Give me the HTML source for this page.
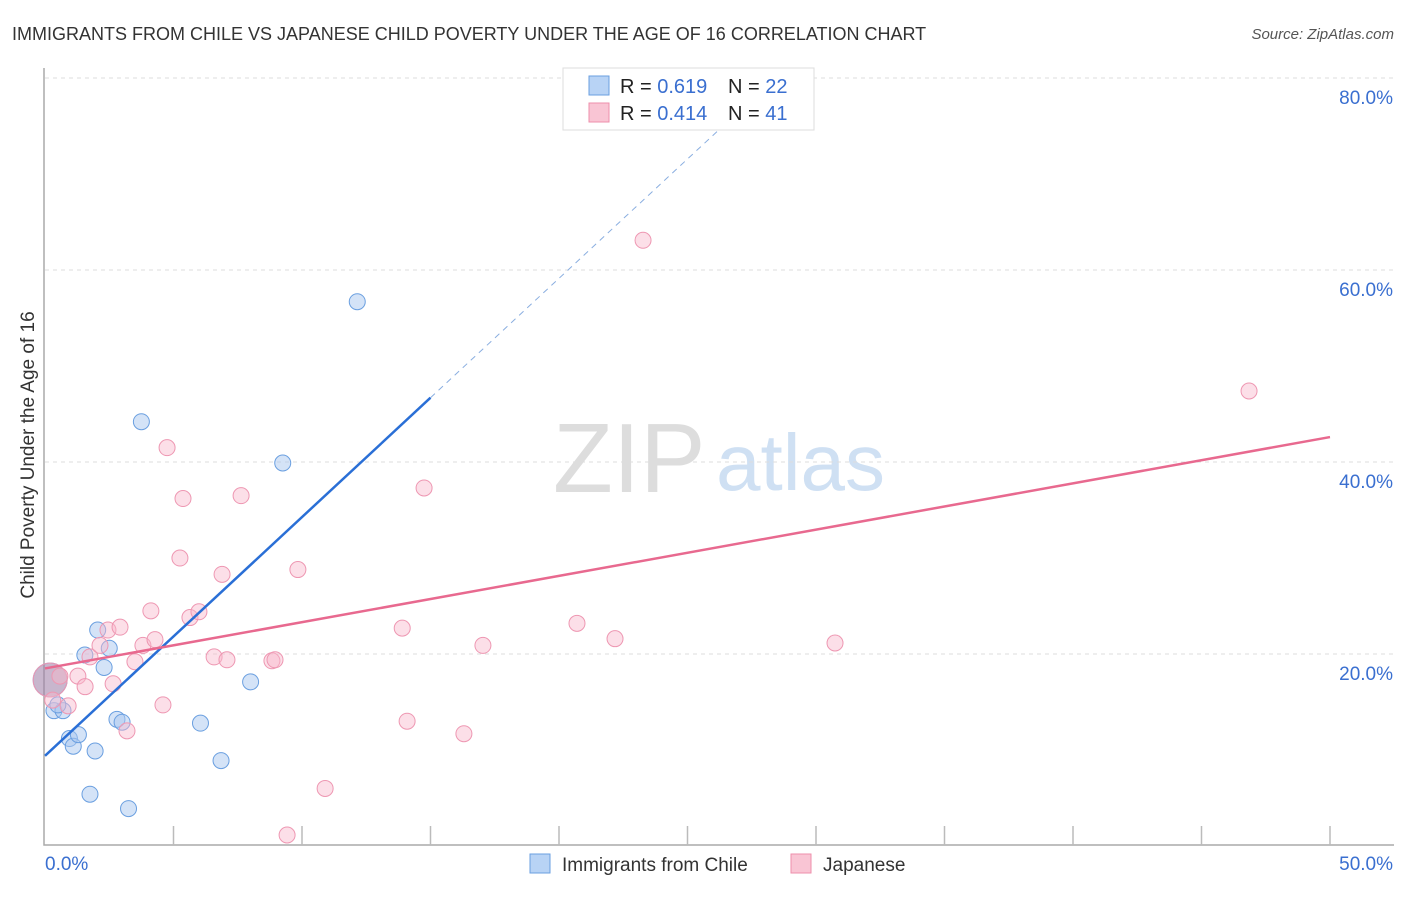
<!DOCTYPE html>
<html><head><meta charset="utf-8"><style>
body{margin:0;background:#fff;font-family:"Liberation Sans",sans-serif;}
svg text{font-family:"Liberation Sans",sans-serif;}
</style></head><body>
<svg id="chart" width="1406" height="892" xmlns="http://www.w3.org/2000/svg">
<text x="12" y="40" font-size="18" fill="#333">IMMIGRANTS FROM CHILE VS JAPANESE CHILD POVERTY UNDER THE AGE OF 16 CORRELATION CHART</text>
<text x="1394" y="39" font-size="15" fill="#555" font-style="italic" text-anchor="end">Source: ZipAtlas.com</text>
<text transform="translate(34,455) rotate(-90)" font-size="19" fill="#333" text-anchor="middle">Child Poverty Under the Age of 16</text>
<text x="553" y="492" font-size="98" fill="#ddd" font-family="Liberation Serif">ZIP</text>
<text x="716" y="490" font-size="80" fill="#cfe0f3">atlas</text>
<g id="grid"></g><g id="marks"></g>
<g>
<rect x="563" y="68" width="251" height="62" fill="#fff" stroke="#ddd"/>
<rect x="589" y="76" width="20" height="19" fill="#b8d3f5" stroke="#6a9fe0"/>
<rect x="589" y="103" width="20" height="19" fill="#f9c5d4" stroke="#ee8fab"/>
<text x="620" y="93" font-size="20" fill="#222">R = <tspan fill="#3a6fd0">0.619</tspan></text>
<text x="728" y="93" font-size="20" fill="#222">N = <tspan fill="#3a6fd0">22</tspan></text>
<text x="620" y="120" font-size="20" fill="#222">R = <tspan fill="#3a6fd0">0.414</tspan></text>
<text x="728" y="120" font-size="20" fill="#222">N = <tspan fill="#3a6fd0">41</tspan></text>
</g>
<g>
<rect x="530" y="854" width="20" height="19" fill="#b8d3f5" stroke="#6a9fe0"/>
<text x="562" y="871" font-size="19" fill="#333">Immigrants from Chile</text>
<rect x="791" y="854" width="20" height="19" fill="#f9c5d4" stroke="#ee8fab"/>
<text x="823" y="871" font-size="19" fill="#333">Japanese</text>
</g>
</svg>
<script>
const yTicks=[20,40,60,80];
const yTickLabels=["20.0%","40.0%","60.0%","80.0%"];
const xTickLabels=["0.0%","50.0%"];
const chileX=[0.2,0.35,0.7,0.5,0.95,1.1,1.3,1.95,1.75,1.55,2.05,2.5,2.3,2.8,3.0,3.25,3.75,6.05,6.85,8.0,9.25,12.15];
const chileY=[17.4,14.2,14.2,14.8,11.3,10.5,11.7,10.0,5.5,20.0,22.6,20.7,18.7,13.3,13.0,4.0,44.3,12.9,9.0,17.2,40.0,56.8];
const japX=[0.2,0.3,0.58,0.9,1.28,1.56,1.75,2.14,2.45,2.65,2.92,3.19,3.5,3.81,4.12,4.28,4.59,4.75,5.25,5.37,5.64,5.99,6.58,6.89,7.08,7.63,8.83,8.95,9.42,9.84,10.9,13.9,14.09,14.75,16.3,17.04,20.7,22.18,23.27,30.74,46.85];
const japY=[17.4,15.3,17.8,14.7,17.8,16.7,19.8,21.0,22.6,17.0,22.9,12.1,19.3,21.0,24.6,21.6,14.8,41.6,30.1,36.3,23.9,24.5,19.8,28.4,19.5,36.6,19.4,19.5,1.25,28.9,6.1,22.8,13.1,37.4,11.8,21.0,23.3,21.7,63.2,21.25,47.5];
const chileFit=[0,9.5,15,46.8];
const japFit=[0,18.6,50,42.7];
const X=v=>45+v*25.7, Y=v=>847-v*9.6;
const ns="http://www.w3.org/2000/svg";
const grid=document.getElementById('grid'), marks=document.getElementById('marks');
function mk(p,tag,a){const e=document.createElementNS(ns,tag);for(const k in a)e.setAttribute(k,a[k]);p.appendChild(e);return e;}
yTicks.forEach((t,i)=>{
 const l=mk(grid,'line',{x1:45,x2:1394,y1:Y(t)-1,y2:Y(t)-1,stroke:'#ddd','stroke-dasharray':'4,4'});
 
 
 const tx=mk(grid,'text',{x:1393,y:Y(t)+25,'font-size':19,fill:'#3a6fd0','text-anchor':'end'});tx.textContent=yTickLabels[i];
 
 
});
const ax=mk(grid,'path',{d:'M44,68 V845 H1394',fill:'none',stroke:'#aaa','stroke-width':1.5});


for(let i=1;i<=10;i++){const x=45+i*128.5;const t=mk(grid,'line',{x1:x,x2:x,y1:826,y2:845,stroke:'#bbb','stroke-width':1.5});
 
 }
[[0,45,'start'],[50,1393,'end']].forEach((d,i)=>{const t=mk(grid,'text',{x:d[1],y:870,'font-size':19,fill:'#3a6fd0','text-anchor':d[2]});t.textContent=xTickLabels[i];
 
 });
function pts(xs,ys,fill,stroke,name){xs.forEach((x,i)=>{const big=i==0;const c=mk(marks,'circle',{cx:X(x),cy:Y(ys[i]),r:big?17:8,fill:big?'rgba(160,130,170,0.35)':fill,stroke:stroke,'stroke-width':1});
 
 });}
pts(chileX,chileY,'rgba(170,200,240,0.5)','#6a9fe0','chile-point');
pts(japX,japY,'rgba(248,185,205,0.45)','#ee97b2','japanese-point');
const s=(chileFit[3]-chileFit[1])/(chileFit[2]-chileFit[0]);
const cl=mk(marks,'line',{x1:X(chileFit[0]),y1:Y(chileFit[1]),x2:X(chileFit[2]),y2:Y(chileFit[3]),stroke:'#2a6fd6','stroke-width':2.5});


const xe=27.8;
const cd=mk(marks,'line',{x1:X(chileFit[2]),y1:Y(chileFit[3]),x2:X(xe),y2:Y(chileFit[1]+s*xe),stroke:'#8aaee0','stroke-width':1,'stroke-dasharray':'6,5'});


const jl=mk(marks,'line',{x1:X(japFit[0]),y1:Y(japFit[1]),x2:X(japFit[2]),y2:Y(japFit[3]),stroke:'#e8698f','stroke-width':2.5});


</script>
</body></html>
